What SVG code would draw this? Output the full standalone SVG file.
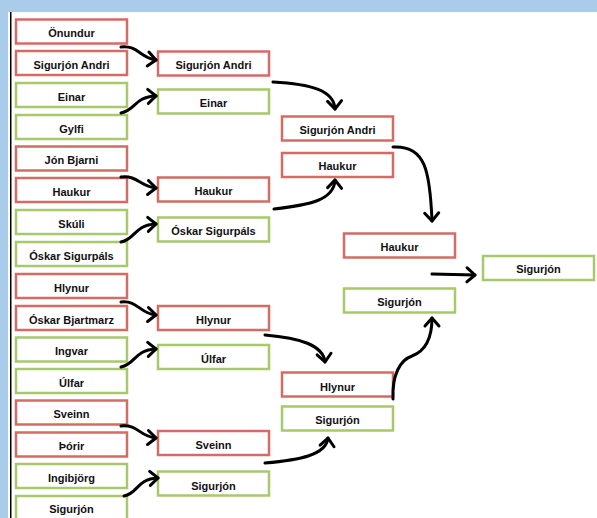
<svg xmlns="http://www.w3.org/2000/svg" width="597" height="518" viewBox="0 0 597 518">
<defs>
<style>
.r{fill:#fff;stroke:#d56b65;stroke-width:2.5}
.g{fill:#fff;stroke:#a7c96b;stroke-width:2.5}
text{font-family:"Liberation Sans",Arial,sans-serif;font-weight:bold;font-size:11px;fill:#111;text-anchor:middle;dominant-baseline:central}
.c{fill:none;stroke:#000;stroke-width:3;stroke-linecap:round}
</style>
<marker id="ah" markerUnits="userSpaceOnUse" markerWidth="20" markerHeight="20" viewBox="-12 -10 14 20" refX="0" refY="0" orient="auto">
<path d="M-8,-7 L0,0 L-8,7" fill="none" stroke="#000" stroke-width="3" stroke-linecap="round" stroke-linejoin="round"/>
</marker>
</defs>
<rect x="0" y="0" width="597" height="518" fill="#fff"/>
<rect x="0" y="0" width="597" height="12" fill="#a8cce9"/>
<rect x="0" y="0" width="8" height="518" fill="#a8cce9"/>
<rect x="10" y="12" width="1.5" height="506" fill="#000"/>

<g id="r1-1"><rect class="r" x="16" y="19.5" width="111" height="24"/><text x="71.5" y="33">Önundur</text></g>
<g id="r1-2"><rect class="r" x="16" y="51" width="111" height="24"/><text x="71.5" y="64.5">Sigurjón Andri</text></g>
<g id="r1-3"><rect class="g" x="16" y="83" width="111" height="24"/><text x="71.5" y="96.5">Einar</text></g>
<g id="r1-4"><rect class="g" x="16" y="115" width="111" height="24"/><text x="71.5" y="128.5">Gylfi</text></g>
<g id="r1-5"><rect class="r" x="16" y="146.5" width="111" height="24"/><text x="71.5" y="160">Jón Bjarni</text></g>
<g id="r1-6"><rect class="r" x="16" y="178" width="111" height="24"/><text x="71.5" y="191.5">Haukur</text></g>
<g id="r1-7"><rect class="g" x="16" y="210" width="111" height="24"/><text x="71.5" y="223.5">Skúli</text></g>
<g id="r1-8"><rect class="g" x="16" y="242" width="111" height="24"/><text x="71.5" y="256">Óskar Sigurpáls</text></g>
<g id="r1-9"><rect class="r" x="16" y="274" width="111" height="24"/><text x="71.5" y="287.5">Hlynur</text></g>
<g id="r1-10"><rect class="r" x="16" y="306" width="111" height="24"/><text x="71.5" y="319.5">Óskar Bjartmarz</text></g>
<g id="r1-11"><rect class="g" x="16" y="337.5" width="111" height="24"/><text x="71.5" y="351">Ingvar</text></g>
<g id="r1-12"><rect class="g" x="16" y="369" width="111" height="24"/><text x="71.5" y="382.5">Úlfar</text></g>
<g id="r1-13"><rect class="r" x="16" y="400.5" width="111" height="24"/><text x="71.5" y="414">Sveinn</text></g>
<g id="r1-14"><rect class="r" x="16" y="432.5" width="111" height="24"/><text x="71.5" y="446">Þórir</text></g>
<g id="r1-15"><rect class="g" x="16" y="464" width="111" height="24"/><text x="71.5" y="477.5">Ingibjörg</text></g>
<g id="r1-16"><rect class="g" x="16" y="496" width="111" height="24"/><text x="71.5" y="509">Sigurjón</text></g>

<g id="r2-1"><rect class="r" x="158" y="51.5" width="111" height="24"/><text x="213.5" y="65">Sigurjón Andri</text></g>
<g id="r2-2"><rect class="g" x="158" y="89.5" width="111" height="24"/><text x="213.5" y="103">Einar</text></g>
<g id="r2-3"><rect class="r" x="158" y="177.5" width="111" height="24"/><text x="213.5" y="191">Haukur</text></g>
<g id="r2-4"><rect class="g" x="158" y="217.5" width="111" height="24"/><text x="213.5" y="231">Óskar Sigurpáls</text></g>
<g id="r2-5"><rect class="r" x="158" y="306" width="111" height="24"/><text x="213.5" y="319.5">Hlynur</text></g>
<g id="r2-6"><rect class="g" x="158" y="345" width="111" height="24"/><text x="213.5" y="358.5">Úlfar</text></g>
<g id="r2-7"><rect class="r" x="158" y="431" width="111" height="24"/><text x="213.5" y="444.5">Sveinn</text></g>
<g id="r2-8"><rect class="g" x="158" y="471.5" width="111" height="24"/><text x="213.5" y="486">Sigurjón</text></g>

<g id="r3-1"><rect class="r" x="282" y="116.5" width="111" height="24"/><text x="337.5" y="130">Sigurjón Andri</text></g>
<g id="r3-2"><rect class="r" x="282" y="153" width="111" height="24"/><text x="337.5" y="166">Haukur</text></g>
<g id="r3-3"><rect class="r" x="282" y="372.5" width="111" height="24"/><text x="337.5" y="387">Hlynur</text></g>
<g id="r3-4"><rect class="g" x="282" y="406.5" width="111" height="24"/><text x="337.5" y="420">Sigurjón</text></g>

<g id="r4-1"><rect class="r" x="344" y="233.5" width="111" height="24"/><text x="399.5" y="247">Haukur</text></g>
<g id="r4-2"><rect class="g" x="344" y="288.5" width="111" height="24"/><text x="399.5" y="302">Sigurjón</text></g>

<g id="r5-1"><rect class="g" x="483" y="256" width="111" height="24"/><text x="538.5" y="269">Sigurjón</text></g>

<g id="connectors">
<path class="c" marker-end="url(#ah)" d="M121,47 C138,45 140,58 156,60"/>
<path class="c" marker-end="url(#ah)" d="M121,113 C136,110 134,97 156,96"/>
<path class="c" marker-end="url(#ah)" d="M121,177 C138,175 140,187 156,188"/>
<path class="c" marker-end="url(#ah)" d="M121,242 C136,239 134,225 156,224"/>
<path class="c" marker-end="url(#ah)" d="M121,302 C138,300 140,314 156,315"/>
<path class="c" marker-end="url(#ah)" d="M121,367 C136,364 134,350 156,349"/>
<path class="c" marker-end="url(#ah)" d="M121,426 C138,424 140,437 156,438"/>
<path class="c" marker-end="url(#ah)" d="M124,496 C139,493 136,479 158,478"/>
<path class="c" marker-end="url(#ah)" d="M273,82 C310,84 334,90 335,109"/>
<path class="c" marker-end="url(#ah)" d="M274,209 C310,205 334,200 335,180"/>
<path class="c" marker-end="url(#ah)" d="M393,147 C425,145 430,170 432,221"/>
<path class="c" marker-end="url(#ah)" d="M265,335 C300,338 323,345 325,362"/>
<path class="c" marker-end="url(#ah)" d="M265,463 C300,460 326,455 328,438"/>
<path class="c" marker-end="url(#ah)" d="M393,399 C392,375 400,360 412,356 C428,350 432,333 432,318"/>
<path class="c" marker-end="url(#ah)" d="M432,274 L475,275"/>
</g>
</svg>
